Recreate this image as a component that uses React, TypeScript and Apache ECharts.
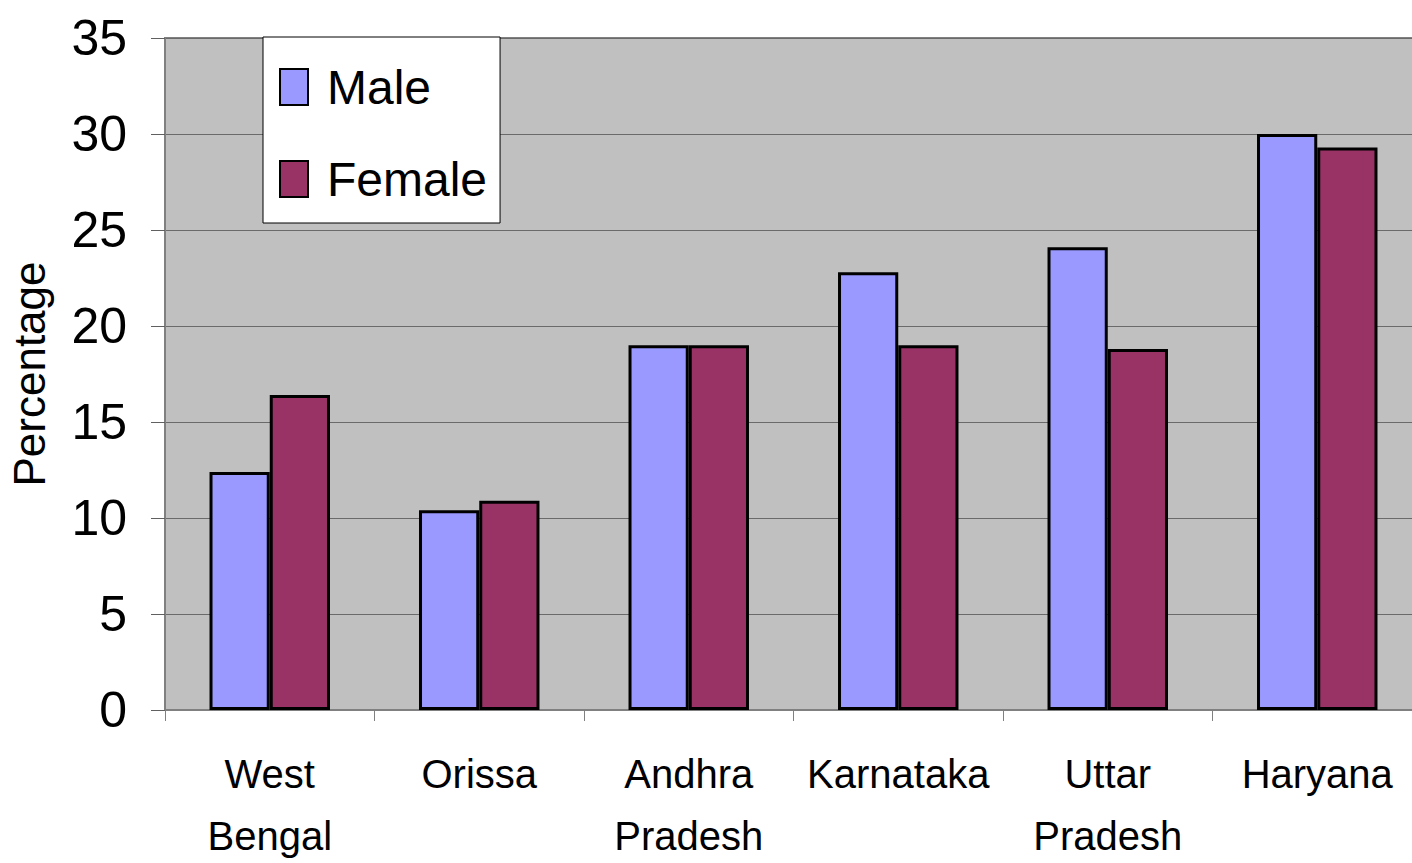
import React, { useEffect, useRef } from "react";
import * as echarts from "echarts";

const categories = ["West\nBengal", "Orissa", "Andhra\nPradesh", "Karnataka", "Uttar\nPradesh", "Haryana"];
const maleValues = [12.4, 10.4, 19.0, 22.8, 24.1, 30.0];
const femaleValues = [16.4, 10.9, 19.0, 19.0, 18.8, 29.3];
const seriesNames = ["Male", "Female"];
const yAxisName = "Percentage";

const FONT = "'Liberation Sans Narrow', 'Liberation Sans', Arial, sans-serif";

export default function App() {
  const ref = useRef<HTMLDivElement>(null);
  useEffect(() => {
    const chart = echarts.init(ref.current!, null, { renderer: "svg" });
    chart.setOption({
      animation: false,
      backgroundColor: "#ffffff",
      grid: {
        left: 165,
        top: 38,
        bottom: 153,
        right: -10,
        containLabel: false,
        outerBoundsMode: "none",
        show: true,
        backgroundColor: "#C0C0C0",
        borderColor: "#808080",
        borderWidth: 2,
      },
      legend: {
        orient: "vertical",
        left: 263,
        top: 37,
        padding: [26, 13, 20, 16],
        itemGap: 44,
        itemWidth: 28,
        itemHeight: 36,
        backgroundColor: "#ffffff",
        borderColor: "#000000",
        borderWidth: 1,
        borderRadius: 0,
        textStyle: {
          fontFamily: FONT,
          fontSize: 48,
          color: "#000",
          padding: [0, 0, 0, 14],
        },
        data: seriesNames.map((n) => ({ name: n, icon: "rect" })),
      },
      xAxis: {
        type: "category",
        data: categories,
        axisLine: { show: true, lineStyle: { color: "#808080", width: 2 } },
        axisTick: { show: true, length: 11, lineStyle: { color: "#808080", width: 1 } },
        axisLabel: {
          fontFamily: FONT,
          fontSize: 40,
          color: "#000",
          lineHeight: 62,
          margin: 33,
          interval: 0,
        },
      },
      yAxis: {
        type: "value",
        min: 0,
        max: 35,
        interval: 5,
        name: yAxisName,
        nameLocation: "middle",
        nameGap: 114,
        nameRotate: 90,
        nameTextStyle: {
          fontFamily: "'Liberation Sans', Arial, sans-serif",
          fontSize: 44,
          color: "#000",
        },
        axisLine: { show: true, lineStyle: { color: "#808080", width: 2 } },
        axisTick: { show: true, length: 14, lineStyle: { color: "#606060", width: 1 } },
        splitLine: { show: true, lineStyle: { color: "#6a6a6a", width: 1 } },
        axisLabel: {
          fontFamily: FONT,
          fontSize: 50,
          color: "#000",
          margin: 38,
        },
      },
      series: [
        {
          name: seriesNames[0],
          type: "bar",
          data: maleValues,
          barGap: "0%",
          barCategoryGap: "42.5%",
          itemStyle: { color: "#9999FF", borderColor: "#000000", borderWidth: 3 },
        },
        {
          name: seriesNames[1],
          type: "bar",
          data: femaleValues,
          barGap: "0%",
          barCategoryGap: "42.5%",
          itemStyle: { color: "#993366", borderColor: "#000000", borderWidth: 3 },
        },
      ],
    });
    return () => chart.dispose();
  }, []);
  return (
    <div
      ref={ref}
      style={{ position: "fixed", left: 0, top: 0, width: 1412, height: 863 }}
    />
  );
}
